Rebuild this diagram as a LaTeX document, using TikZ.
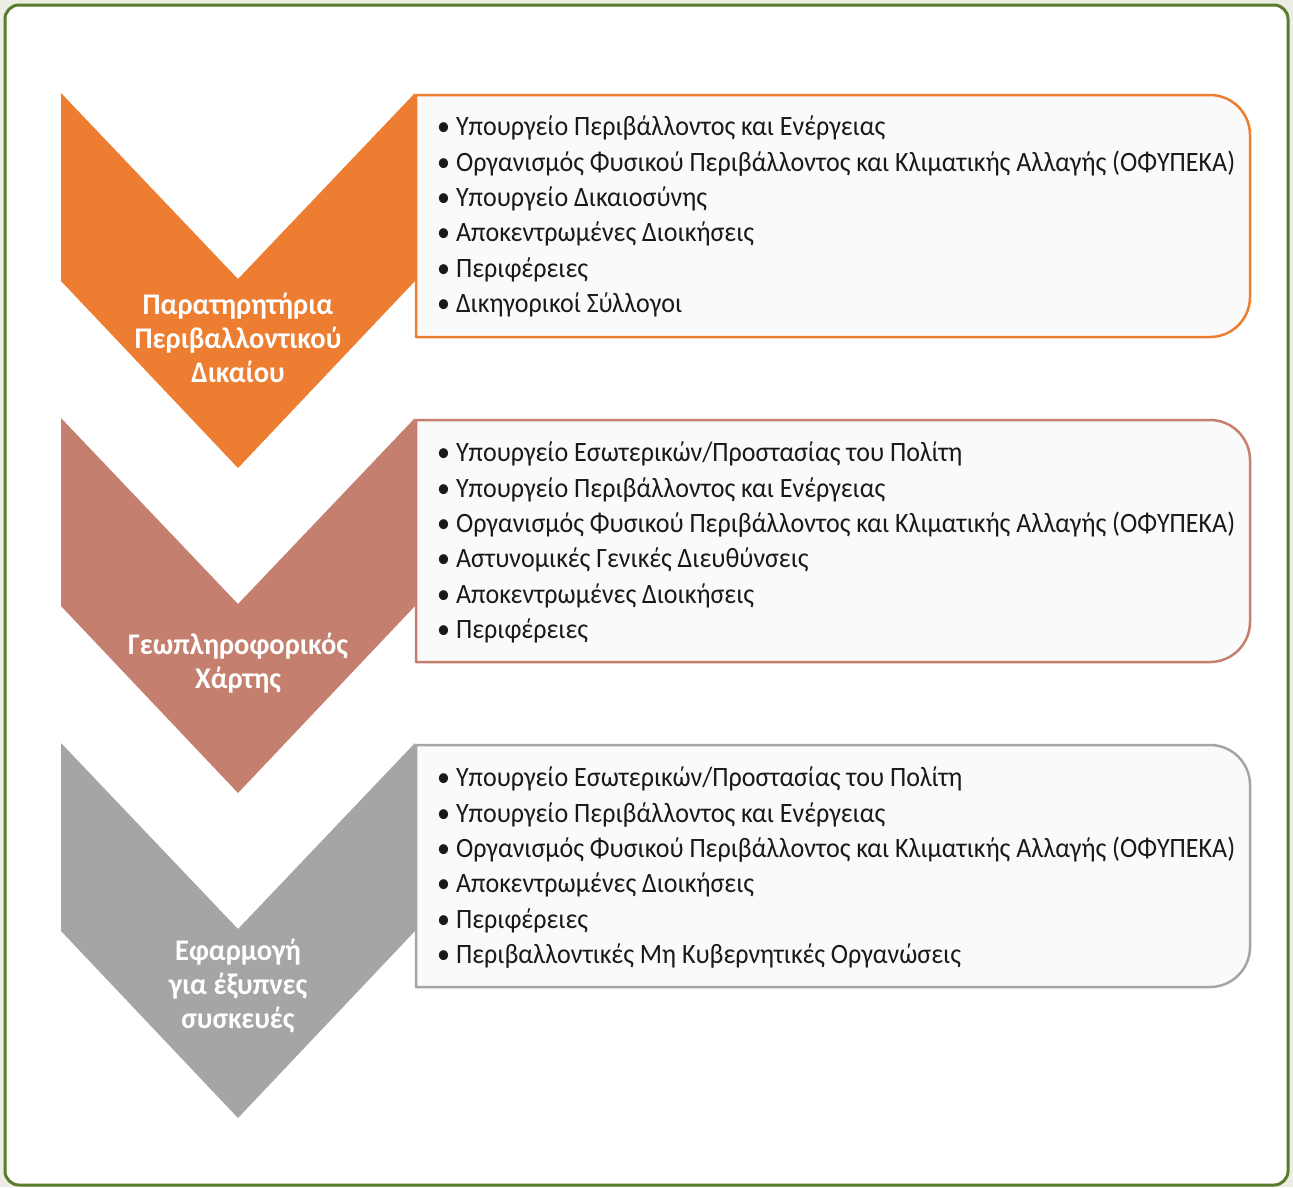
\documentclass[tikz,border=0pt]{standalone}
\usepackage{fontspec}
\setmainfont{Carlito}
\newfontfamily\listfont{Carlito}[FakeStretch=0.93]
\newfontfamily\labelfont{Carlito}[FakeStretch=0.95]
\definecolor{chevorange}{HTML}{ED7D31}
\definecolor{chevsalmon}{HTML}{C47F6F}
\definecolor{chevgray}{HTML}{A5A5A5}
\definecolor{framegreen}{HTML}{5A7B2B}
\definecolor{pagebg}{HTML}{ECEEE6}
\tikzset{
	steplabel/.style={text=white, font=\labelfont\fontsize{30}{34}\selectfont\bfseries, align=center, inner sep=0pt},
	listtext/.style={anchor=north west, align=left, text=black!90, font=\listfont\fontsize{28}{35.3}\selectfont, inner sep=0pt},
}
\begin{document}
\begin{tikzpicture}[x=1pt,y=-1pt, line join=round]
	\useasboundingbox (0,0) rectangle (1293,1187);
	\fill[pagebg] (0,0) rectangle (1293,1187);
	\draw[framegreen, line width=3pt, fill=white, rounded corners=14pt] (5,5) rectangle (1288,1185);
	% chevrons and list boxes
	\foreach \y/\c in {93/chevorange, 418/chevsalmon, 743/chevgray}{
		\fill[\c] (61,\y) -- (238,\y+186) -- (415,\y) -- (415,\y+188) -- (238,\y+375) -- (61,\y+188) -- cycle;
		\draw[\c, line width=2.5pt, fill=white!98!black, rounded corners=40pt] (800,\y+2) -- (1250,\y+2) -- (1250,\y+244) -- (800,\y+244) [sharp corners] -- (416,\y+244) -- (416,\y+2) -- cycle;
	}
	\node[steplabel] (obs) at (238,338) {Παρατηρητήρια\\Περιβαλλοντικού\\Δικαίου};
	\node[steplabel] (map) at (238,663) {Γεωπληροφορικός\\Χάρτης};
	\node[steplabel] (app) at (238,986) {Εφαρμογή\\για έξυπνες\\συσκευές};
	\node[listtext] (obslist) at (437,116) {\textbullet\ Υπουργείο Περιβάλλοντος και Ενέργειας\\
		\textbullet\ Οργανισμός Φυσικού Περιβάλλοντος και Κλιματικής Αλλαγής (ΟΦΥΠΕΚΑ)\\
		\textbullet\ Υπουργείο Δικαιοσύνης\\
		\textbullet\ Αποκεντρωμένες Διοικήσεις\\
		\textbullet\ Περιφέρειες\\
		\textbullet\ Δικηγορικοί Σύλλογοι};
	\node[listtext] (maplist) at (437,442) {\textbullet\ Υπουργείο Εσωτερικών/Προστασίας του Πολίτη\\
		\textbullet\ Υπουργείο Περιβάλλοντος και Ενέργειας\\
		\textbullet\ Οργανισμός Φυσικού Περιβάλλοντος και Κλιματικής Αλλαγής (ΟΦΥΠΕΚΑ)\\
		\textbullet\ Αστυνομικές Γενικές Διευθύνσεις\\
		\textbullet\ Αποκεντρωμένες Διοικήσεις\\
		\textbullet\ Περιφέρειες};
	\node[listtext] (applist) at (437,767) {\textbullet\ Υπουργείο Εσωτερικών/Προστασίας του Πολίτη\\
		\textbullet\ Υπουργείο Περιβάλλοντος και Ενέργειας\\
		\textbullet\ Οργανισμός Φυσικού Περιβάλλοντος και Κλιματικής Αλλαγής (ΟΦΥΠΕΚΑ)\\
		\textbullet\ Αποκεντρωμένες Διοικήσεις\\
		\textbullet\ Περιφέρειες\\
		\textbullet\ Περιβαλλοντικές Μη Κυβερνητικές Οργανώσεις};
\end{tikzpicture}
\end{document}
